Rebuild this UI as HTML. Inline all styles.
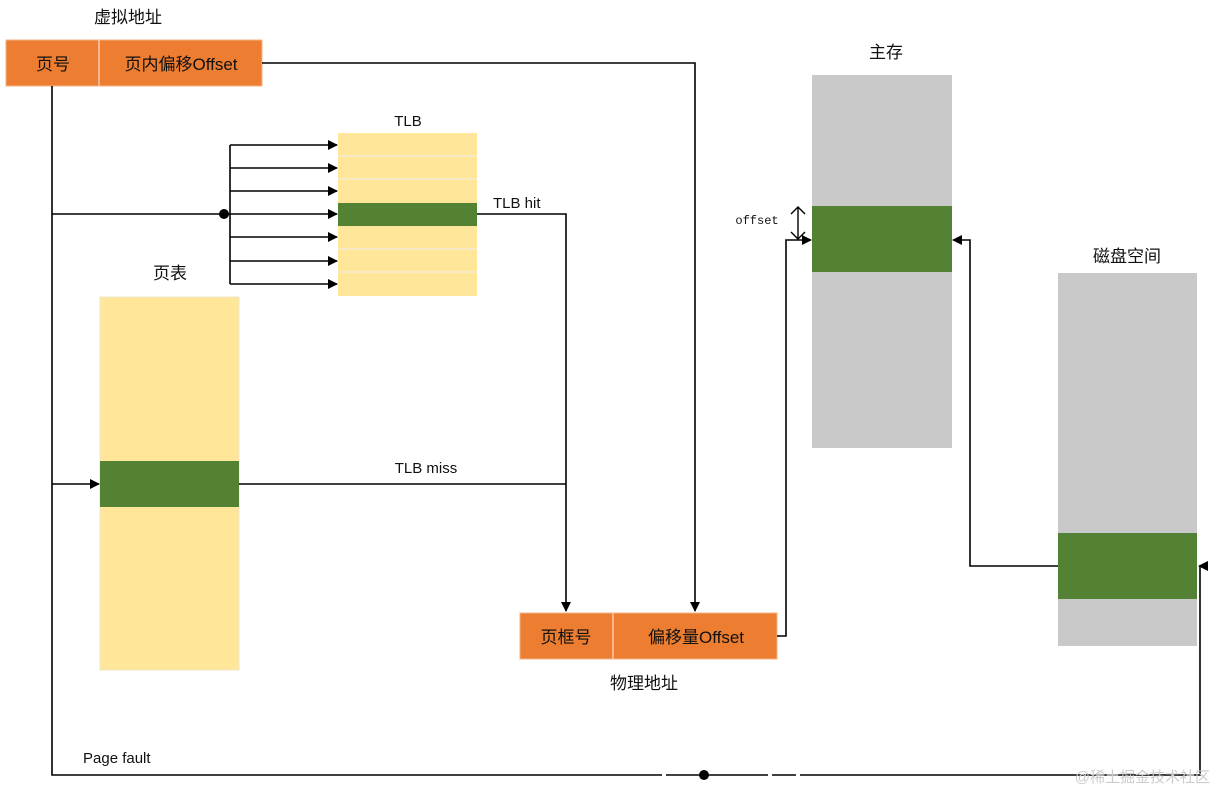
<!DOCTYPE html>
<html><head><meta charset="utf-8"><style>
html,body{margin:0;padding:0;background:#fff;}
svg{display:block;}
text{font-family:"Liberation Sans","Noto Sans CJK SC",sans-serif;fill:#111;}
</style></head><body>
<svg width="1217" height="791" viewBox="0 0 1217 791" xmlns="http://www.w3.org/2000/svg">
<defs>
<marker id="a" markerWidth="10" markerHeight="10" refX="9" refY="5" orient="auto" markerUnits="userSpaceOnUse">
<path d="M0,0 L10,5 L0,10 z" fill="#000"/></marker>
</defs>
<!-- virtual address -->
<text x="128" y="23" font-size="17" text-anchor="middle">虚拟地址</text>
<rect x="6" y="40" width="256" height="46" fill="#ed7d31" stroke="#f4b183" stroke-width="1"/>
<line x1="99" y1="40" x2="99" y2="86" stroke="#f8cbad" stroke-width="1.5"/>
<text x="53" y="70" font-size="17" text-anchor="middle">页号</text>
<text x="181" y="70" font-size="17" text-anchor="middle">页内偏移Offset</text>
<!-- TLB -->
<text x="408" y="126" font-size="15" text-anchor="middle">TLB</text>
<rect x="338" y="133" width="139" height="163" fill="#ffe699"/>
<g stroke="#f3ecd6" stroke-width="1.5">
<line x1="338" y1="156" x2="477" y2="156"/><line x1="338" y1="179" x2="477" y2="179"/>
<line x1="338" y1="249" x2="477" y2="249"/><line x1="338" y1="272" x2="477" y2="272"/>
</g>
<rect x="338" y="203" width="139" height="23" fill="#548235"/>
<!-- page table -->
<text x="170" y="279" font-size="17" text-anchor="middle">页表</text>
<rect x="100" y="297" width="139" height="373" fill="#ffe699" stroke="#f0e6c8"/>
<rect x="100" y="461" width="139" height="46" fill="#548235"/>
<!-- main memory -->
<text x="886" y="58" font-size="17" text-anchor="middle">主存</text>
<rect x="812" y="75" width="140" height="373" fill="#c9c9c9"/>
<rect x="812" y="206" width="140" height="66" fill="#548235"/>
<!-- disk -->
<text x="1127" y="262" font-size="17" text-anchor="middle">磁盘空间</text>
<rect x="1058" y="273" width="139" height="373" fill="#c9c9c9"/>
<rect x="1058" y="533" width="139" height="66" fill="#548235"/>
<!-- physical address -->
<rect x="520" y="613" width="257" height="46" fill="#ed7d31" stroke="#f4b183"/>
<line x1="613" y1="613" x2="613" y2="659" stroke="#f8cbad" stroke-width="1.5"/>
<text x="566" y="643" font-size="17" text-anchor="middle">页框号</text>
<text x="696" y="643" font-size="17" text-anchor="middle">偏移量Offset</text>
<text x="644" y="689" font-size="17" text-anchor="middle">物理地址</text>
<!-- lines -->
<g stroke="#000" stroke-width="1.6" fill="none">
<polyline points="262,63 695,63 695,611" marker-end="url(#a)"/>
<polyline points="52,86 52,775 1200,775 1200,566 1208,566"/>
<line x1="52" y1="214" x2="230" y2="214"/>
<line x1="230" y1="145" x2="230" y2="284"/>
<line x1="230" y1="145" x2="337" y2="145" marker-end="url(#a)"/>
<line x1="230" y1="168" x2="337" y2="168" marker-end="url(#a)"/>
<line x1="230" y1="191" x2="337" y2="191" marker-end="url(#a)"/>
<line x1="230" y1="214" x2="337" y2="214" marker-end="url(#a)"/>
<line x1="230" y1="237" x2="337" y2="237" marker-end="url(#a)"/>
<line x1="230" y1="261" x2="337" y2="261" marker-end="url(#a)"/>
<line x1="230" y1="284" x2="337" y2="284" marker-end="url(#a)"/>
<polyline points="477,214 566,214 566,611" marker-end="url(#a)"/>
<line x1="52" y1="484" x2="99" y2="484" marker-end="url(#a)"/>
<line x1="239" y1="484" x2="566" y2="484"/>
<polyline points="777,636 786,636 786,240 811,240" marker-end="url(#a)"/>
<polyline points="1058,566 970,566 970,240 953,240" marker-end="url(#a)"/>
<line x1="798" y1="207" x2="798" y2="239" stroke-width="1.4"/>
<path d="M791,214 L798,207 L805,214 M791,232 L798,239 L805,232" stroke-width="1.4"/>
</g>
<path d="M1198,566 L1208,561 L1208,571 z" fill="#000"/>
<circle cx="224" cy="214" r="5" fill="#000"/>
<circle cx="704" cy="775" r="5" fill="#000"/>
<rect x="662" y="772" width="4" height="7" fill="#fff"/>
<rect x="768" y="772" width="4" height="7" fill="#fff"/>
<rect x="796" y="772" width="4" height="7" fill="#fff"/>
<text x="493" y="208" font-size="15">TLB hit</text>
<text x="426" y="473" font-size="15" text-anchor="middle">TLB miss</text>
<text x="83" y="763" font-size="15">Page fault</text>
<text x="757" y="224" font-size="12" text-anchor="middle" style="font-family:'Liberation Mono',monospace">offset</text>
<text x="1210" y="782" font-size="15" text-anchor="end" style="fill:#ccc">@稀土掘金技术社区</text>
</svg>
</body></html>
